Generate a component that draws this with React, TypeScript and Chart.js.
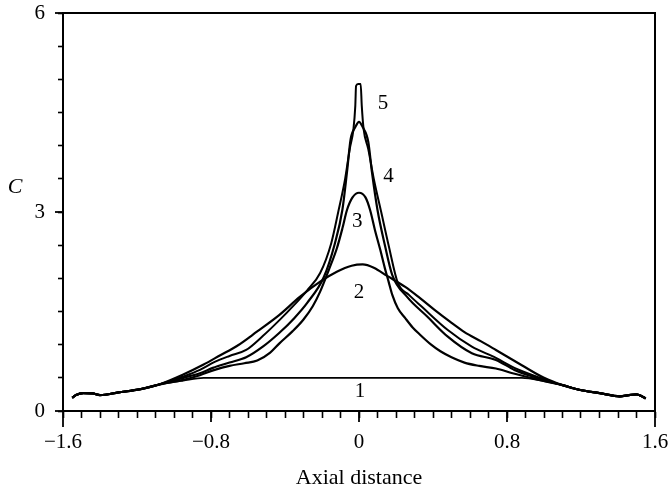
import React, { useEffect, useRef } from "react";
import { Chart, registerables } from "chart.js";

Chart.register(...registerables);

// Shared tails (all curves converge at the ends)
const tailLeftX = [-1.55, -1.53, -1.49, -1.44, -1.4, -1.3, -1.18, -1.08];
const tailLeftC = [0.2, 0.24, 0.27, 0.265, 0.24, 0.28, 0.33, 0.4];
const tailRightX = [1.1, 1.19, 1.3, 1.41, 1.46, 1.5, 1.53, 1.55];
const tailRightC = [0.39, 0.32, 0.27, 0.22, 0.24, 0.25, 0.22, 0.19];

// Curve 1: initial uniform level
const curve1X = [-0.95, -0.84, 0.88, 1.0];
const curve1C = [0.46, 0.5, 0.5, 0.45];

// Curve 2: broad peak
const curve2X = [-0.95, -0.84, -0.75, -0.66, -0.55, -0.43, -0.32, -0.21, -0.12, -0.04, 0.02, 0.08, 0.15, 0.25, 0.33, 0.41, 0.49, 0.57, 0.66, 0.74, 0.88, 1.0];
const curve2C = [0.55, 0.7, 0.84, 0.98, 1.2, 1.45, 1.72, 1.95, 2.1, 2.19, 2.21, 2.16, 2.04, 1.87, 1.7, 1.52, 1.35, 1.19, 1.05, 0.92, 0.69, 0.5];

// Curve 3: peak 3.3, lowest shoulders
const curve3X = [-0.95, -0.86, -0.78, -0.7, -0.62, -0.55, -0.48, -0.43, -0.36, -0.3, -0.25, -0.21, -0.16, -0.12, -0.09, -0.065, -0.035, 0, 0.035, 0.06, 0.086, 0.115, 0.14, 0.16, 0.18, 0.21, 0.25, 0.29, 0.33, 0.39, 0.44, 0.5, 0.57, 0.65, 0.74, 0.83, 0.93, 1.02];
const curve3C = [0.47, 0.54, 0.62, 0.68, 0.72, 0.76, 0.88, 1.02, 1.2, 1.38, 1.58, 1.8, 2.15, 2.45, 2.75, 3.03, 3.22, 3.29, 3.22, 3.03, 2.73, 2.43, 2.15, 1.95, 1.75, 1.55, 1.4, 1.26, 1.15, 1.0, 0.9, 0.81, 0.73, 0.68, 0.64, 0.57, 0.5, 0.44];

// Curve 4: peak 4.36
const curve4X = [-0.95, -0.86, -0.79, -0.7, -0.61, -0.52, -0.43, -0.35, -0.28, -0.19, -0.13, -0.09, -0.065, -0.045, -0.02, 0, 0.02, 0.05, 0.07, 0.1, 0.14, 0.18, 0.26, 0.37, 0.48, 0.61, 0.74, 0.84, 0.95, 1.03];
const curve4C = [0.5, 0.57, 0.65, 0.73, 0.81, 0.97, 1.18, 1.4, 1.63, 2.02, 2.53, 3.03, 3.6, 4.1, 4.28, 4.36, 4.28, 4.06, 3.6, 3.03, 2.5, 2.05, 1.72, 1.42, 1.12, 0.87, 0.77, 0.62, 0.51, 0.44];

// Curve 5: sharp spike 4.93
const curve5X = [-0.95, -0.86, -0.78, -0.7, -0.61, -0.52, -0.43, -0.35, -0.28, -0.21, -0.15, -0.11, -0.075, -0.05, -0.03, -0.02, -0.016, -0.005, 0.009, 0.015, 0.025, 0.05, 0.08, 0.12, 0.16, 0.21, 0.27, 0.34, 0.48, 0.61, 0.74, 0.84, 0.98, 1.05];
const curve5C = [0.52, 0.62, 0.74, 0.83, 0.92, 1.13, 1.37, 1.6, 1.82, 2.08, 2.53, 3.03, 3.5, 3.95, 4.25, 4.6, 4.9, 4.93, 4.93, 4.6, 4.25, 3.95, 3.5, 3.0, 2.5, 1.93, 1.75, 1.57, 1.22, 0.97, 0.8, 0.65, 0.5, 0.43];

const curveLabels = ["1", "2", "3", "4", "5"];
const curveLabelX = [0.005, 0, -0.01, 0.16, 0.13];
const curveLabelC = [0.29, 1.78, 2.86, 3.53, 4.64];

const xMajorTicks = [-1.6, -0.8, 0, 0.8, 1.6];
const yMajorTicks = [0, 3, 6];

const yAxisTitle = "C";
const yAxisTitleC = 3.38;
const xAxisTitle = "Axial distance";

const FONT = "'Liberation Serif', 'Times New Roman', serif";

function buildSeries(xs: number[], cs: number[]) {
  const pts: { x: number; y: number }[] = [];
  tailLeftX.forEach((x, i) => pts.push({ x, y: tailLeftC[i] }));
  xs.forEach((x, i) => pts.push({ x, y: cs[i] }));
  tailRightX.forEach((x, i) => pts.push({ x, y: tailRightC[i] }));
  return pts;
}

const framePlugin = {
  id: "framePlugin",
  afterDraw(chart: any) {
    const { ctx, chartArea, scales } = chart;
    const xs = scales.x;
    const ys = scales.y;
    ctx.save();
    ctx.strokeStyle = "#000";
    ctx.lineWidth = 2;
    ctx.beginPath();
    ctx.moveTo(chartArea.left, chartArea.top);
    ctx.lineTo(chartArea.right, chartArea.top);
    ctx.lineTo(chartArea.right, chartArea.bottom);
    ctx.stroke();
    // major x ticks (longer)
    ctx.lineWidth = 1.8;
    xMajorTicks.forEach((v) => {
      const px = xs.getPixelForValue(v);
      const len = Math.abs(v) > 1.5 ? 16 : 11;
      ctx.beginPath();
      ctx.moveTo(px, chartArea.bottom);
      ctx.lineTo(px, chartArea.bottom + len);
      ctx.stroke();
    });
    yMajorTicks.forEach((v) => {
      const py = ys.getPixelForValue(v);
      ctx.beginPath();
      ctx.moveTo(chartArea.left, py);
      ctx.lineTo(chartArea.left - 8, py);
      ctx.stroke();
    });
    // curve labels
    ctx.fillStyle = "#000";
    ctx.textAlign = "center";
    ctx.textBaseline = "middle";
    ctx.font = `21px ${FONT}`;
    curveLabels.forEach((t, i) => {
      ctx.fillText(t, xs.getPixelForValue(curveLabelX[i]), ys.getPixelForValue(curveLabelC[i]));
    });
    // axis titles
    ctx.font = `italic 22px ${FONT}`;
    ctx.fillText(yAxisTitle, chartArea.left - 48, ys.getPixelForValue(yAxisTitleC));
    ctx.font = `22px ${FONT}`;
    ctx.fillText(xAxisTitle, xs.getPixelForValue(0), chartArea.bottom + 67);
    ctx.restore();
  },
};

export default function App() {
  const ref = useRef<HTMLCanvasElement | null>(null);
  useEffect(() => {
    if (!ref.current) return;
    const series = [
      [curve1X, curve1C, 1.8],
      [curve2X, curve2C, 2.2],
      [curve3X, curve3C, 2.2],
      [curve4X, curve4C, 2.2],
      [curve5X, curve5C, 2.0],
    ] as [number[], number[], number][];
    const chart = new Chart(ref.current, {
      type: "line",
      data: {
        datasets: series.map(([xs, cs, w], i) => ({
          label: curveLabels[i],
          data: buildSeries(xs, cs),
          borderColor: "#000",
          borderWidth: w,
          pointRadius: 0,
          fill: false,
          cubicInterpolationMode: "monotone" as const,
        })),
      },
      options: {
        animation: false,
        responsive: false,
        layout: { padding: { top: 13, right: 14, left: 0, bottom: 0 } },
        plugins: { legend: { display: false }, tooltip: { enabled: false } },
        scales: {
          x: {
            type: "linear",
            min: -1.6,
            max: 1.6,
            afterFit: (s: any) => {
              s.height = 87;
              s.paddingLeft = 0;
              s.paddingRight = 0;
            },
            grid: { drawOnChartArea: false, drawTicks: true, tickLength: 7, tickColor: "#000", tickWidth: 1.6 },
            border: { display: true, color: "#000", width: 2 },
            ticks: {
              stepSize: 0.1,
              autoSkip: false,
              maxRotation: 0,
              maxTicksLimit: 100,
              padding: 12,
              color: "#000",
              font: { family: FONT, size: 21 },
              callback: (v: any) => {
                const k = Math.round(Number(v) * 10);
                if (k % 8 !== 0) return "";
                if (k === 0) return "0";
                return (k < 0 ? "\u2212" : "") + (Math.abs(k) / 10).toFixed(1);
              },
            },
          },
          y: {
            type: "linear",
            min: 0,
            max: 6,
            afterFit: (s: any) => {
              s.width = 63;
              s.paddingTop = 0;
              s.paddingBottom = 0;
            },
            grid: { drawOnChartArea: false, drawTicks: true, tickLength: 5, tickColor: "#000", tickWidth: 1.6 },
            border: { display: true, color: "#000", width: 2 },
            ticks: {
              stepSize: 0.5,
              autoSkip: false,
              maxTicksLimit: 100,
              padding: 13,
              color: "#000",
              font: { family: FONT, size: 21 },
              callback: (v: any) => {
                const k = Math.round(Number(v) * 2);
                if (k % 6 !== 0) return "";
                return String(k / 2);
              },
            },
          },
        },
      },
      plugins: [framePlugin],
    });
    return () => chart.destroy();
  }, []);
  return (
    <div style={{ position: "absolute", left: 0, top: 0, width: 669, height: 498, background: "#fff" }}>
      <canvas ref={ref} width={669} height={498} style={{ display: "block" }} />
    </div>
  );
}
